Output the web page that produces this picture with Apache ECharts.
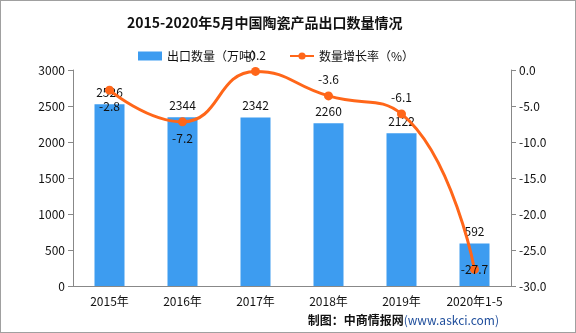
<!DOCTYPE html>
<html>
<head>
<meta charset="utf-8">
<script src="https://cdn.jsdelivr.net/npm/echarts@6/dist/echarts.min.js"></script>
<style>
  html, body { margin: 0; padding: 0; background: #fff; }
  #chart { width: 574px; height: 331px; border: 1px solid #a0a0a0; }
</style>
</head>
<body>
<div id="chart"></div>
<script>
// Export volume of ceramic products, China, 2015 – Jan-May 2020
const categories = ['2015年', '2016年', '2017年', '2018年', '2019年', '2020年1-5'];
const exportVolume = [2526, 2344, 2342, 2260, 2122, 592];      // 万吨
const growthRate = [-2.8, -7.2, -0.2, -3.6, -6.1, -27.7];        // %
const growthLabelPos = ['bottom', 'bottom', 'top', 'top', 'top', 'inside'];

const font = '"Noto Sans CJK SC", "DejaVu Sans", sans-serif';
const chart = echarts.init(document.getElementById('chart'));

chart.setOption({
  animation: false,
  title: {
    text: '2015-2020年5月中国陶瓷产品出口数量情况',
    left: 121, top: 10,
    textStyle: { fontSize: 14, fontWeight: 'bold', color: '#111', fontFamily: font }
  },
  legend: {
    top: 44, left: 132,
    itemGap: 26, itemWidth: 24, itemHeight: 9,
    textStyle: { fontSize: 12, color: '#111', fontFamily: font },
    data: [
      { name: '出口数量（万吨）', icon: 'rect' },
      { name: '数量增长率（%）' }
    ]
  },
  grid: { left: 72, right: 64, top: 69, bottom: 46 },
  xAxis: {
    type: 'category',
    data: categories,
    axisLine: { lineStyle: { color: '#888' } },
    axisTick: { lineStyle: { color: '#888' } },
    axisLabel: { color: '#111', fontSize: 12, fontFamily: font, margin: 9 }
  },
  yAxis: [
    {
      type: 'value', min: 0, max: 3000, interval: 500,
      axisLine: { show: true, lineStyle: { color: '#888' } },
      axisTick: { show: true, lineStyle: { color: '#888' } },
      splitLine: { show: false },
      axisLabel: {
        color: '#111', fontSize: 12, fontFamily: font,
        formatter: v => String(v)
      }
    },
    {
      type: 'value', min: -30, max: 0, interval: 5,
      axisLine: { show: true, lineStyle: { color: '#888' } },
      axisTick: { show: true, lineStyle: { color: '#888' } },
      splitLine: { show: false },
      axisLabel: {
        color: '#111', fontSize: 12, fontFamily: font,
        formatter: v => v.toFixed(1)
      }
    }
  ],
  series: [
    {
      name: '出口数量（万吨）',
      type: 'bar',
      data: exportVolume,
      barWidth: 30,
      itemStyle: { color: '#3d9cf0' },
      label: {
        show: true, position: 'top', distance: 6,
        color: '#111', fontSize: 12, fontFamily: font
      }
    },
    {
      name: '数量增长率（%）',
      type: 'line',
      yAxisIndex: 1,
      smooth: true,
      symbol: 'circle', symbolSize: 9,
      lineStyle: { color: '#ff6619', width: 3 },
      itemStyle: { color: '#ff6619' },
      data: growthRate.map((v, i) => ({
        value: v,
        label: { position: growthLabelPos[i] }
      })),
      label: {
        show: true, distance: 6,
        color: '#111', fontSize: 12, fontFamily: font,
        formatter: p => p.value.toFixed(1)
      },
      z: 5
    }
  ],
  graphic: [
    {
      type: 'text', right: 76, bottom: 6,
      style: {
        text: '{a|制图：中商情报网}{b|(www.askci.com)}',
        rich: {
          a: { fill: '#111', fontWeight: 'bold', fontSize: 12, fontFamily: font },
          b: { fill: '#1f4e9c', fontSize: 12, fontFamily: font }
        }
      }
    }
  ]
});
</script>
</body>
</html>
